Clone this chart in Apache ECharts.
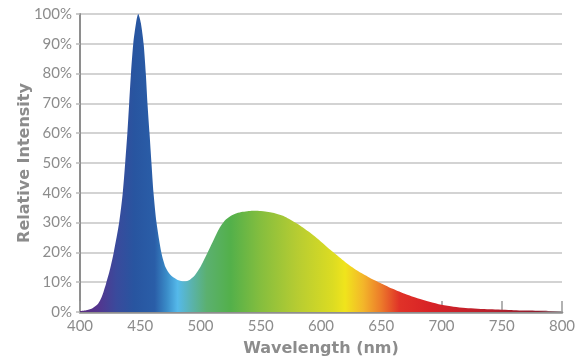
<!DOCTYPE html>
<html>
<head>
<meta charset="utf-8">
<script src="https://cdn.jsdelivr.net/npm/echarts@6/dist/echarts.min.js"></script>
<style>html,body{margin:0;padding:0;background:#fff;}#c{width:582px;height:363px;}</style>
</head>
<body>
<div id="c"></div>
<script>
// Wavelength (nm)
var wavelengths = [400,405,410,415,418,421.6,425,428,432.5,435.5,437.5,439.3,440.8,442.3,444.2,446.5,448.3,450.5,452.8,454.6,456,457.7,459.3,461,463.5,467.5,471,475,480,485,490,495,500,505,510,515,520,525,530,535,540,545,550,560,570,580,590,600,610,620,630,640,650,660,670,680,690,700,710,720,740,760,780,800];
// Relative intensity (%)
var intensity = [0.3,0.6,1.2,2.8,5,9.5,14.5,20,30,40,50,60,70,80,90,97,100,97,90,80,70,60,50,40,30,20,15,12.5,11,10.3,10.6,12.2,15.2,19.2,23.4,27.6,30.6,32.2,33.1,33.6,33.9,34,33.9,33.3,32,29.7,26.9,23.6,20.1,16.8,13.9,11.6,9.6,7.7,6,4.6,3.4,2.4,1.8,1.35,0.9,0.6,0.45,0.35];
var xTicks = {min:400, max:800, step:50};
var yTicks = {min:0, max:100, step:10};

var chart = echarts.init(document.getElementById('c'), null, {renderer:'canvas'});
var txt = '#8c8c8c';
var font = 'Lato, "Open Sans", sans-serif';
var nameFont = '"DejaVu Sans", Lato, sans-serif';
var pts = wavelengths.map(function(w,i){return [w,intensity[i]];});
function off(w){return (w-400)/400;}
var stops = [
 [400,'#5b2d82'],[415,'#54358e'],[430,'#3a4a9c'],[445,'#2855a0'],[462,'#2a5ea8'],
 [472,'#3a8cc8'],[481,'#55b9ea'],[492,'#5ab3b0'],[505,'#5bb070'],[525,'#53b04a'],
 [550,'#85be3e'],[580,'#b6cc32'],[610,'#dcdc22'],[620,'#f0e41c'],[635,'#f3b62a'],
 [650,'#ec7a2a'],[665,'#e03228'],[690,'#d82226'],[740,'#b8202c'],[800,'#7a1a2e']
].map(function(s){return {offset:off(s[0]), color:s[1]};});

chart.setOption({
  animation:false,
  grid:{left:80,right:20,top:14,bottom:51},
  xAxis:{
    type:'value', min:xTicks.min, max:xTicks.max, interval:xTicks.step,
    name:'Wavelength (nm)', nameLocation:'middle', nameGap:29, nameMoveOverlap:false,
    nameTextStyle:{color:txt,fontSize:16,fontWeight:'bold',fontFamily:nameFont},
    axisLine:{show:true,lineStyle:{color:'#8e8e8e',width:2.5}},
    axisTick:{show:true,inside:true,length:11,lineStyle:{color:'#999',width:1.5}},
    axisLabel:{color:txt,fontSize:15,fontFamily:font,margin:7},
    splitLine:{show:false}
  },
  yAxis:{
    type:'value', min:yTicks.min, max:yTicks.max, interval:yTicks.step,
    name:'Relative Intensity', nameLocation:'middle', nameGap:47, nameMoveOverlap:false,
    nameTextStyle:{color:txt,fontSize:16,fontWeight:'bold',fontFamily:nameFont},
    axisLine:{show:true,lineStyle:{color:'#8e8e8e',width:2}},
    axisTick:{show:true,length:4,lineStyle:{color:'#bbb',width:1.5}},
    axisLabel:{color:txt,fontSize:15,fontFamily:font,margin:8,formatter:'{value}%'},
    splitLine:{show:true,lineStyle:{color:'#c4c4c4',width:1.5}}
  },
  series:[{
    type:'line', data:pts, smooth:0.25, symbol:'none',
    lineStyle:{width:0},
    areaStyle:{opacity:1,color:new echarts.graphic.LinearGradient(0,0,1,0,stops)},
    z:3
  }]
});
</script>
</body>
</html>
